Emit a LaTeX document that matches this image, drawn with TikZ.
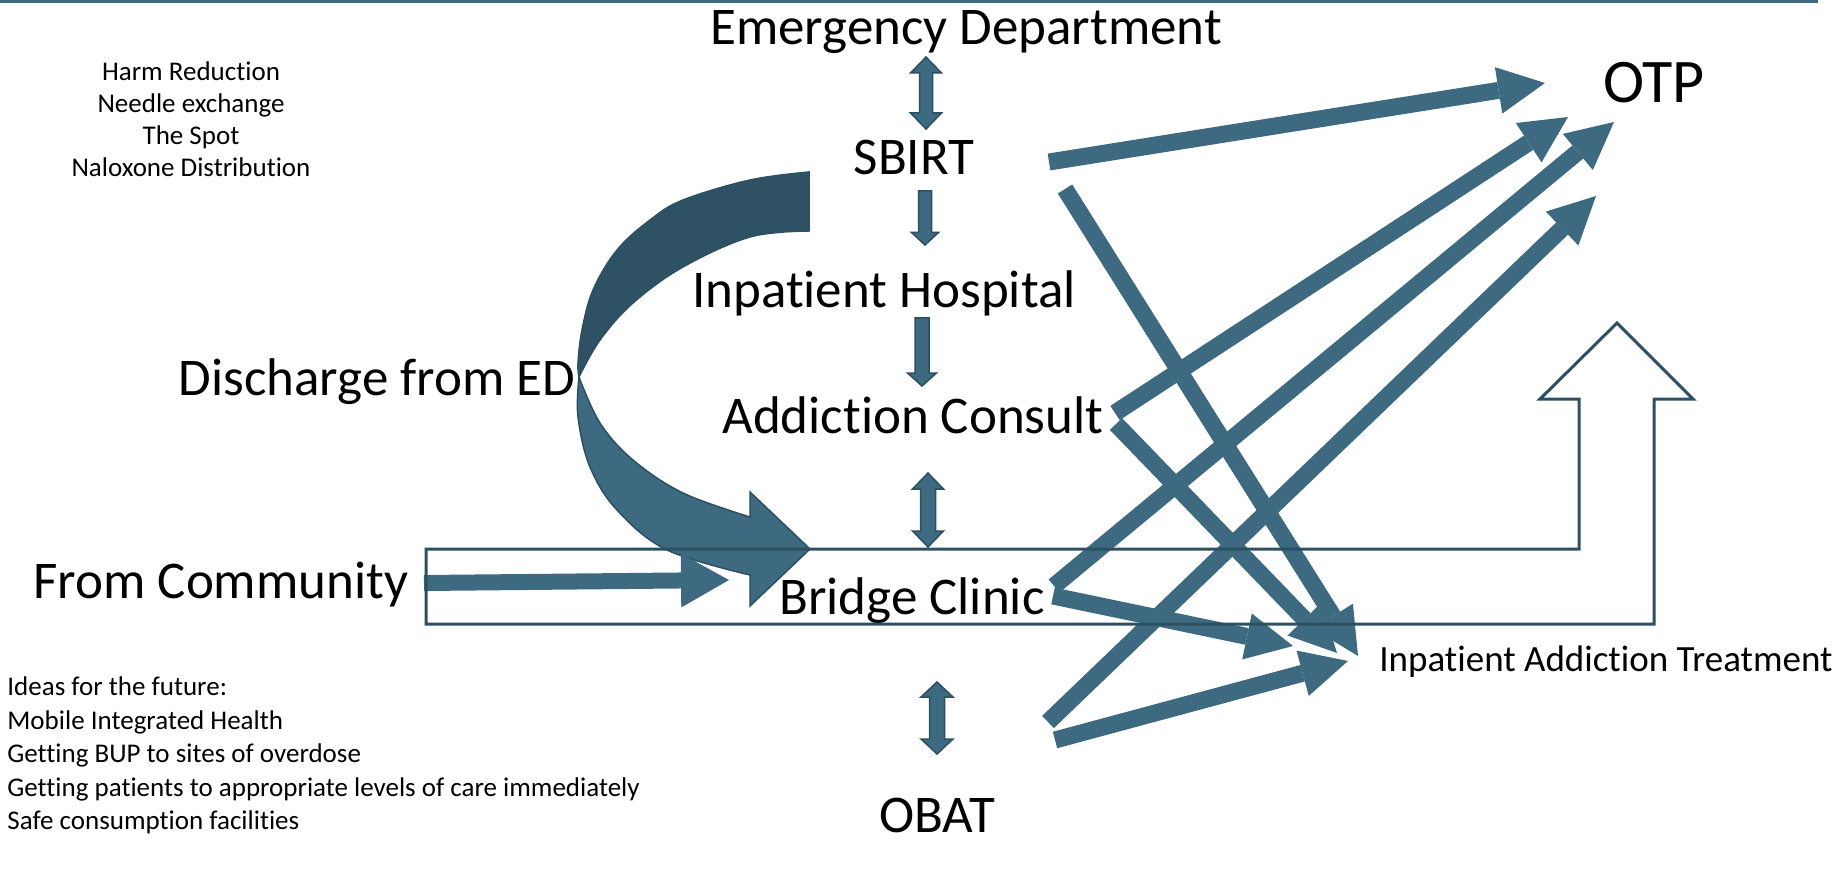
\documentclass[tikz,border=0pt]{standalone}
\usepackage{fontspec}
\setmainfont{Carlito}[Ligatures={NoCommon}]
\usetikzlibrary{arrows.meta}

\definecolor{flow}{HTML}{3D6A80}
\definecolor{flowdark}{HTML}{2C5062}
\definecolor{banddark}{HTML}{2E5264}

\tikzset{
  label/.style={anchor=base, inner sep=0pt, font=\fontsize{26.5pt}{32pt}\selectfont},
  otplabel/.style={anchor=base, inner sep=0pt, font=\fontsize{31pt}{37pt}\selectfont},
  iatlabel/.style={anchor=base west, inner sep=0pt, font=\fontsize{18.5pt}{22pt}\selectfont},
  note/.style={anchor=base, inner sep=0pt, font=\fontsize{13.5pt}{16pt}\selectfont},
  noteleft/.style={note, anchor=base west},
  flowarrow/.style={draw=flow, line width=8.5pt,
    -{Triangle[width=23.5pt,length=23.5pt,line width=0pt]}},
  feedarrow/.style={draw=flow, line width=8pt,
    -{Triangle[width=27pt,length=24pt,line width=0pt]}},
  blockarrow/.style={fill=flow, draw=flowdark, line width=0.75pt, line join=miter},
  bandback/.style={fill=banddark, draw=flowdark, line width=0.75pt},
  bandfront/.style={fill=flow, draw=flowdark, line width=0.75pt, line join=miter},
  bentoutline/.style={draw=flowdark, line width=1.5pt, line join=miter},
}

% vertical block arrow with heads at both ends: x, top, bottom, half shaft, half head, head length
\newcommand{\dblv}[6]{%
  \filldraw[blockarrow] (#1,#2) -- (#1+#5,#2+#6) -- (#1+#4,#2+#6) -- (#1+#4,#3-#6)
    -- (#1+#5,#3-#6) -- (#1,#3) -- (#1-#5,#3-#6) -- (#1-#4,#3-#6)
    -- (#1-#4,#2+#6) -- (#1-#5,#2+#6) -- cycle;}
% vertical block arrow pointing down
\newcommand{\sglv}[6]{%
  \filldraw[blockarrow] (#1-#4,#2) -- (#1+#4,#2) -- (#1+#4,#3-#6) -- (#1+#5,#3-#6)
    -- (#1,#3) -- (#1-#5,#3-#6) -- (#1-#4,#3-#6) -- cycle;}

\begin{document}
\begin{tikzpicture}[x=0.5pt,y=-0.5pt]
\useasboundingbox (0,0) rectangle (1845,887);

% rule along the top edge
\draw[flow, line width=1.5pt] (0,2) -- (1818,2);

% ---- labels ----
\node[label] (ed) at (966,45) {Emergency Department};
\node[label] (sbirt) at (914,175) {SBIRT};
\node[label] (inhosp) at (884,308) {Inpatient Hospital};
\node[label] (consult) at (913,433) {Addiction Consult};
\node[label] (discharge) at (377,395) {Discharge from ED};
\node[label] (community) at (221,598) {From Community};
\node[label] (bridge) at (912,614) {Bridge Clinic};
\node[label] (obat) at (937,832) {OBAT};
\node[otplabel] (otp) at (1654,103) {OTP};
\node[iatlabel] (iat) at (1379,671) {Inpatient Addiction Treatment};

\node[note] (harm1) at (191,81) {Harm Reduction};
\node[note] (harm2) at (191,113) {Needle exchange};
\node[note] (harm3) at (191,145) {The Spot};
\node[note] (harm4) at (191,177) {Naloxone Distribution};

\node[noteleft] (idea1) at (7,695) {Ideas for the future:};
\node[noteleft] (idea2) at (7,729) {Mobile Integrated Health};
\node[noteleft] (idea3) at (7,762) {Getting BUP to sites of overdose};
\node[noteleft] (idea4) at (7,796) {Getting patients to appropriate levels of care immediately};
\node[noteleft] (idea5) at (7,829) {Safe consumption facilities};

% ---- curved arrow: discharge from the ED to the bridge clinic ----
\filldraw[bandback] (809,231) -- (809,172)
  -- plot[smooth, tension=0.6] coordinates {(809,172) (750,180) (683,200) (650,220) (617,250) (593,290) (582,330) (578,363) (579,377)}
  -- plot[smooth, tension=0.6] coordinates {(579,377) (600,340) (633,303) (683,267) (750,237) (809,231)}
  -- cycle;
\filldraw[bandfront] (579,377)
  -- plot[smooth, tension=0.6] coordinates {(579,377) (578,417) (590,467) (617,510) (667,550) (750,575)}
  -- (750,606) -- (810,549) -- (750,492) -- (750,517)
  -- plot[smooth, tension=0.6] coordinates {(750,517) (683,493) (633,460) (600,423) (579,377)}
  -- cycle;

% ---- arrow in from the community ----
\coordinate (comm-out) at (424,583);
\coordinate (bridge-in) at (729,580);
\draw[feedarrow] (comm-out) -- (bridge-in);

% ---- connector end points ----
\coordinate (sbirt-a) at (1049,162);
\coordinate (sbirt-b) at (1065,189);
\coordinate (consult-a) at (1115,413);
\coordinate (consult-b) at (1116,424);
\coordinate (bridge-a) at (1054,586);
\coordinate (bridge-b) at (1053,596);
\coordinate (obat-a) at (1048,722);
\coordinate (obat-b) at (1055,740);

\coordinate (otp-1) at (1545,83);
\coordinate (otp-2) at (1568,117);
\coordinate (otp-3) at (1614,122);
\coordinate (otp-4) at (1596,196);
\coordinate (iat-1) at (1358,656);
\coordinate (iat-2) at (1337,653);
\coordinate (iat-3) at (1293,646);
\coordinate (iat-4) at (1348,661);

% ---- referrals to OTP and inpatient addiction treatment ----
\draw[flowarrow] (sbirt-a) -- (otp-1);
\draw[flowarrow] (consult-a) -- (otp-2);
\draw[flowarrow] (bridge-a) -- (otp-3);
\draw[flowarrow] (obat-a) -- (otp-4);
\draw[flowarrow] (sbirt-b) -- (iat-1);
\draw[flowarrow] (consult-b) -- (iat-2);
\draw[flowarrow] (bridge-b) -- (iat-3);
\draw[flowarrow] (obat-b) -- (iat-4);

% ---- vertical block arrows along the central column ----
\dblv{926}{57}{129}{6.5}{15.5}{16}
\sglv{925}{191}{245}{6.5}{13.5}{12.5}
\sglv{922}{318}{386}{7}{14.5}{13}
\dblv{928}{473}{547}{7.5}{15.5}{16}
\dblv{937}{682}{754}{7.5}{16}{15}

% ---- bent-up outline arrow framing the bridge clinic ----
\draw[bentoutline] (426,549) -- (1579,549) -- (1579,399) -- (1540,399) -- (1617,323)
  -- (1693,399) -- (1654,399) -- (1654,624) -- (426,624) -- cycle;

\end{tikzpicture}
\end{document}
